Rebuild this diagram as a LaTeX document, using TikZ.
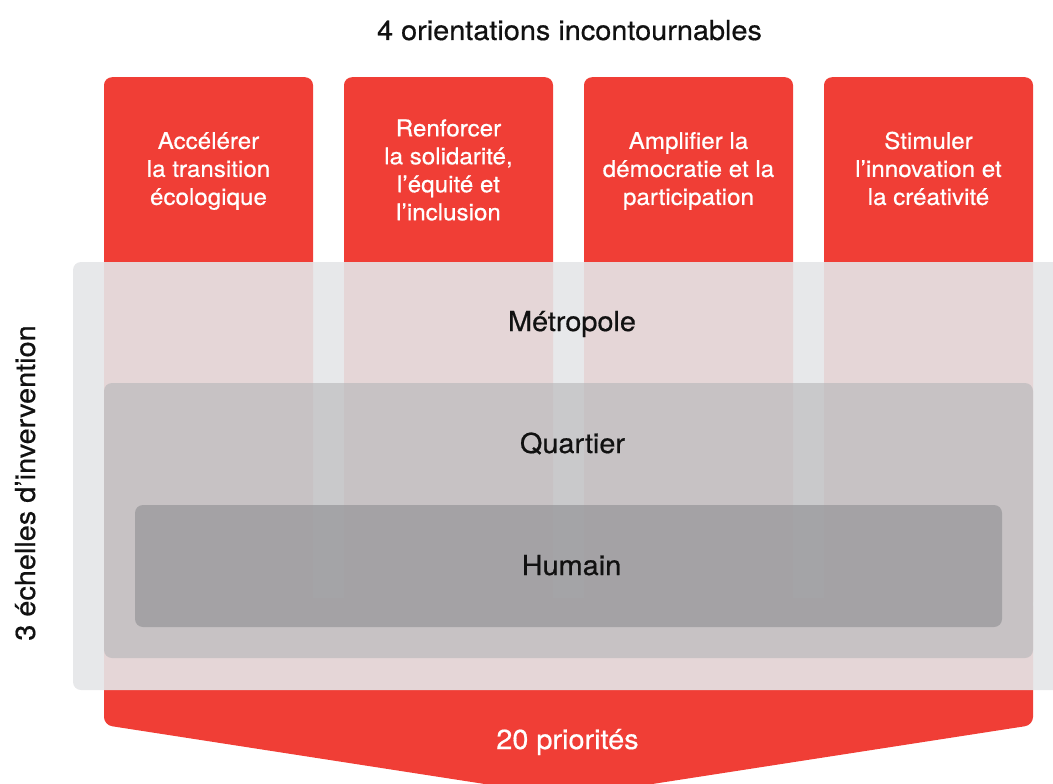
\documentclass[tikz,border=0pt]{standalone}
\usepackage{fontspec}
\setmainfont{TeX Gyre Heros}[FakeStretch=1.05,FakeBold=0.6]
\definecolor{rouge}{RGB}{240,62,54}
\definecolor{voile}{RGB}{229,230,232}
\definecolor{grisq}{RGB}{183,183,185}
\definecolor{grish}{RGB}{147,147,150}
\definecolor{encre}{RGB}{17,17,17}
\begin{document}
\begin{tikzpicture}[x=1pt,y=-1pt,
  colbox/.style={fill=rouge, draw=none, rounded corners=8pt, inner sep=0pt,
    minimum width=209pt, minimum height=533pt, anchor=north},
  lab/.style={text=white, align=center, inner sep=0pt,
    font=\fontsize{23}{28}\selectfont},
  lvl/.style={text=encre, inner sep=0pt, anchor=base,
    font=\fontsize{27.5}{33}\selectfont}]
\useasboundingbox (0,0) rectangle (1053,784);
\clip (0,0) rectangle (1053,784);
% columns
\node[colbox] (c1) at (208.5,77) {};
\node[colbox] (c2) at (448.5,77) {};
\node[colbox] (c3) at (688.5,77) {};
\node[colbox] (c4) at (928.5,77) {};
% chevron
\fill[rouge, rounded corners=8pt] (104,598) -- (1033,598) -- (1033,725)
  -- (568.5,797) -- (104,725) -- cycle;
% overlay (Metropole)
\fill[voile, fill opacity=0.91, rounded corners=8pt] (73,262) rectangle (1085,690);
% Quartier
\fill[grisq, fill opacity=0.63, rounded corners=8pt] (104,383) rectangle (1033,658);
% Humain
\fill[grish, fill opacity=0.67, rounded corners=8pt] (135,505) rectangle (1002,627);
% texts
\node[lvl] (titre) at (569.5,40) {4 orientations incontournables};
\node[lab] (t1) at (208.5,171) {Accélérer\\la transition\\écologique};
\node[lab] (t2) at (448.5,170) {Renforcer\\la solidarité,\\l’équité et\\l’inclusion};
\node[lab] (t3) at (688.5,171) {Amplifier la\\démocratie et la\\participation};
\node[lab] (t4) at (928.5,168.5) {Stimuler\\l’innovation et\\la créativité};
\node[lvl] (metro) at (572,331) {Métropole};
\node[lvl] (quart) at (572.5,453) {Quartier};
\node[lvl] (hum) at (571.5,575) {Humain};
\node[lvl, text=white] (prio) at (567.5,749) {20 priorités};
\node[lvl, rotate=90] (ech) at (35,483) {3 échelles d’invervention};
\end{tikzpicture}
\end{document}
